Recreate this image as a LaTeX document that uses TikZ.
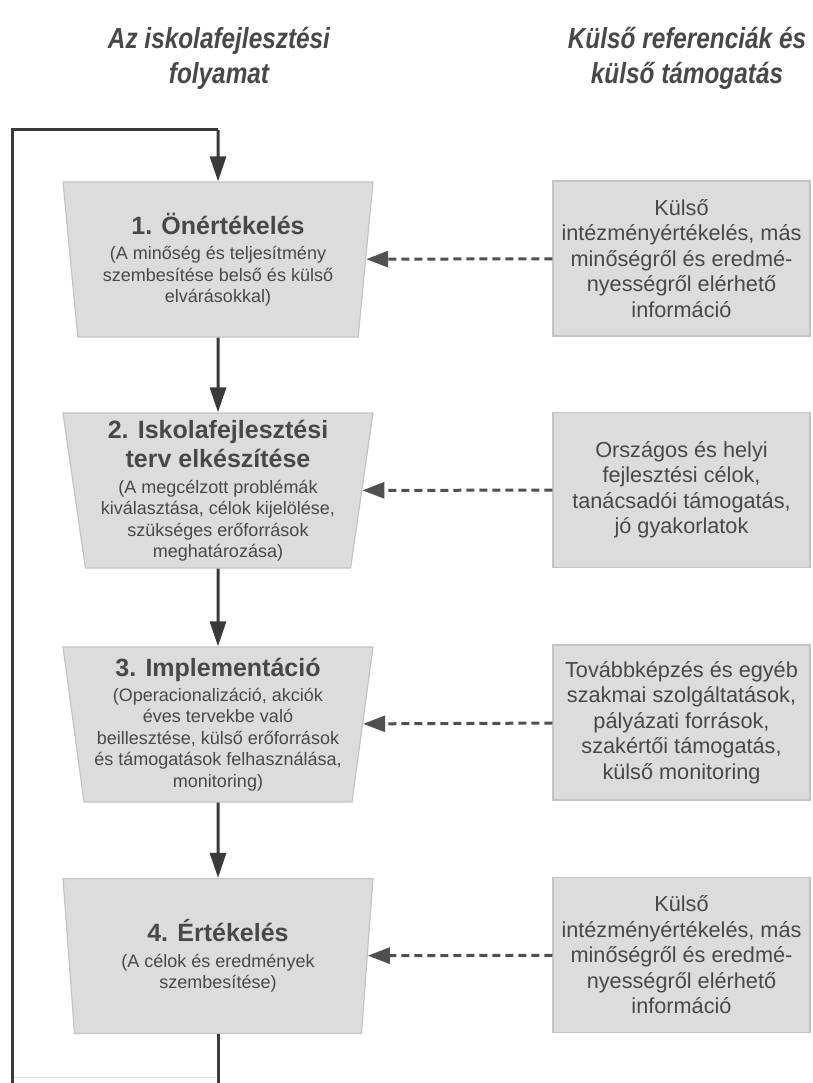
\documentclass[tikz,border=0pt]{standalone}
\usepackage{fontspec}
\setmainfont{Liberation Sans}
\usetikzlibrary{shapes.geometric,arrows.meta}
\newcommand{\fsz}[2]{\fontsize{#1}{#2}\selectfont}
\definecolor{boxfill}{HTML}{DCDCDC}
\definecolor{boxline}{HTML}{C4C4C4}
\definecolor{textc}{HTML}{484848}
\definecolor{linec}{HTML}{3A3A3A}
\definecolor{dashc}{HTML}{505050}
\begin{document}
\begin{tikzpicture}[x=1pt,y=-1pt,
  header/.style={text=textc, align=center, font=\fsz{29}{35}\bfseries\itshape},
  stage/.style={trapezium, trapezium left angle=81, trapezium right angle=81,
    shape border rotate=180, trapezium stretches body,
    minimum width=310pt, minimum height=155pt, inner sep=0pt,
    fill=boxfill, draw=boxline, line width=1.2pt, align=center, text=textc,
    font=\fsz{18}{21.5}},
  ref/.style={rectangle, minimum width=257pt, minimum height=155pt, inner sep=0pt,
    fill=boxfill, draw=boxline, line width=1.2pt, align=center, text=textc,
    font=\fsz{21.7}{25.5}},
  flow/.style={draw=linec, line width=3pt, -{Triangle[length=25pt,width=16pt]}},
  loopline/.style={draw=linec, line width=3pt},
  support/.style={draw=dashc, line width=3pt, dash pattern=on 8pt off 5pt,
    -{Triangle[length=22pt,width=16pt]}}
]
\useasboundingbox (0,0) rectangle (812,1083);

% headers
\node[header] (h1) at (219,58) {\scalebox{0.84}[1]{Az iskolafejlesztési}\\\scalebox{0.84}[1]{folyamat}};
\node[header] (h2) at (687,58) {\scalebox{0.84}[1]{Külső referenciák és}\\\scalebox{0.84}[1]{külső támogatás}};

% stages
\node[stage] (b1) at (218,259.5) {{\fsz{25}{30}\bfseries 1. Önértékelés}\\[4pt]
  (A minőség és teljesítmény\\ szembesítése belső és külső\\ elvárásokkal)};
\node[stage] (b2) at (218,490.5) {{\fsz{25}{30}\bfseries 2. Iskolafejlesztési}\\[5pt]
  {\fsz{25}{30}\bfseries terv elkészítése}\\[4pt]
  (A megcélzott problémák\\ kiválasztása, célok kijelölése,\\ szükséges erőforrások\\ meghatározása)};
\node[stage] (b3) at (218,724.5) {{\fsz{25}{30}\bfseries 3. Implementáció}\\[3pt]
  (Operacionalizáció, akciók\\ éves tervekbe való\\ beillesztése, külső erőforrások\\ és támogatások felhasználása,\\ monitoring)};
\node[stage] (b4) at (218,956) {{\fsz{25}{30}\bfseries 4. Értékelés}\\[4pt]
  (A célok és eredmények\\ szembesítése)};

% external references
\node[ref] (r1) at (681.5,258.5) {Külső\\ intézményértékelés, más\\ minőségről és eredmé-\\ nyességről elérhető\\ információ};
\node[ref] (r2) at (681.5,490) {Országos és helyi\\ fejlesztési célok,\\ tanácsadói támogatás,\\ jó gyakorlatok};
\node[ref] (r3) at (681.5,722.5) {Továbbképzés és egyéb\\ szakmai szolgáltatások,\\ pályázati források,\\ szakértői támogatás,\\ külső monitoring};
\node[ref] (r4) at (681.5,955) {Külső\\ intézményértékelés, más\\ minőségről és eredmé-\\ nyességről elérhető\\ információ};

% flow
\draw[flow] (b1) -- (b2);
\draw[flow] (b2) -- (b3);
\draw[flow] (b3) -- (b4);

% feedback loop
\coordinate (lb) at (218,1090);
\coordinate (ll) at (12,1090);
\coordinate (lt) at (12,130);
\coordinate (rt) at (218,130);
\draw[loopline, line join=miter] (b4) -- (lb) -- (ll) -- (lt) -- (rt);
\draw[flow] (rt) -- (b1);
\coordinate (fa) at (14,1077);
\coordinate (fb) at (216,1077);
\draw[draw=black!12, line width=1pt] (fa) -- (fb);

% support arrows
\draw[support] (r1) -- (b1);
\draw[support] (r2) -- (b2);
\draw[support] (r3) -- (b3);
\draw[support] (r4) -- (b4);
\end{tikzpicture}
\end{document}
